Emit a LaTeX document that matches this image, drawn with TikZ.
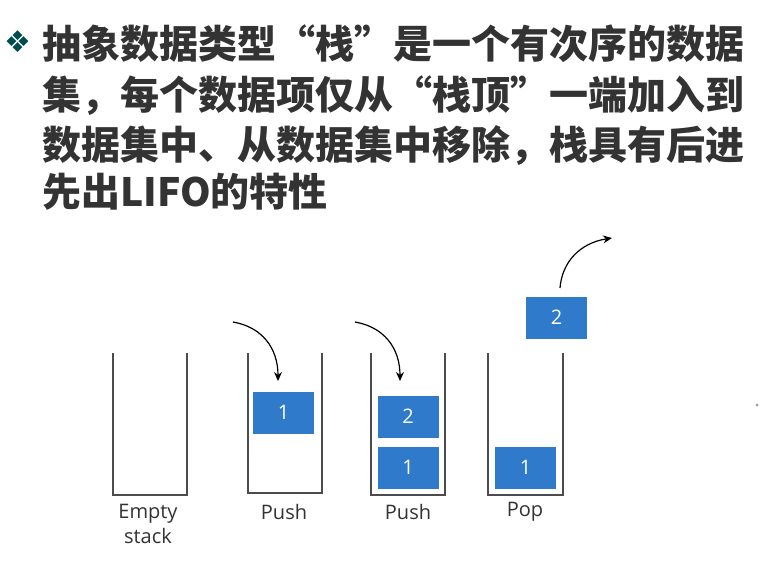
\documentclass[tikz,border=0pt]{standalone}
\usepackage{fontspec}
\usetikzlibrary{arrows.meta}
\newfontfamily\cjk{Noto Sans CJK SC}[BoldFont={* Black}]
\newfontfamily\sym{DejaVu Sans}
\setsansfont{Open Sans}
\definecolor{boxblue}{HTML}{2F7ACB}
\definecolor{txt}{HTML}{333333}
\begin{document}
\begin{tikzpicture}[x=1pt,y=-1pt,
  wall/.style={draw=black!70,line width=1.3pt},
  item/.style={fill=boxblue,text=white,font=\sffamily\fontsize{20}{20}\selectfont,minimum width=61pt,minimum height=42pt,inner sep=0pt},
  lab/.style={font=\sffamily\fontsize{20}{25}\selectfont,align=center,text=txt},
  title/.style={anchor=west,font=\cjk\bfseries\fontsize{39}{39}\selectfont,text=txt,inner sep=0pt},
  mv/.style={-{Stealth[length=9pt,width=8pt]},line width=1.2pt}]
\useasboundingbox[fill=white] (0,0) rectangle (765,567);
\node[anchor=west,inner sep=0pt,text=teal!60!black,font=\sym\fontsize{30}{30}\selectfont] (bul) at (4,42) {❖};
\node[title] (t1) at (42,44) {抽象数据类型“栈”是一个有次序的数据};
\node[title] (t2) at (42,96) {集，每个数据项仅从“栈顶”一端加入到};
\node[title] (t3) at (42,146) {数据集中、从数据集中移除，栈具有后进};
\node[title] (t4) at (42,192) {先出LIFO的特性};
% stacks
\draw[wall] (113,353) -- (113,495) -- (187,495) -- (187,353);
\draw[wall] (248,353) -- (248,493) -- (322,493) -- (322,353);
\draw[wall] (371,353) -- (371,495) -- (445,495) -- (445,353);
\draw[wall] (488,353) -- (488,495) -- (563,495) -- (563,353);
\node[item] (a1) at (283.5,412.5) {1};
\node[item] (b2) at (408,416.5) {2};
\node[item] (b1) at (408,467.5) {1};
\node[item] (c1) at (525.5,467.5) {1};
\node[item] (c2) at (556.5,317.5) {2};
\node[lab] (l1) at (148,524) {Empty\\stack};
\node[lab] (l2) at (284,512) {Push};
\node[lab] (l3) at (408,512) {Push};
\node[lab] (l4) at (525,512) {Pop};
\coordinate (s1) at (233,322);
\coordinate (e1) at (278,381);
\coordinate (s2) at (355,322);
\coordinate (e2) at (400,381);
\coordinate (s3) at (560,288);
\coordinate (e3) at (612,238);
\draw[mv] (s1) .. controls (262,327) and (278,348) .. (e1);
\draw[mv] (s2) .. controls (384,327) and (400,348) .. (e2);
\draw[mv] (s3) .. controls (562,262) and (580,243) .. (e3);
\fill[black!40] (757,405) circle (1.5);
\end{tikzpicture}
\end{document}
